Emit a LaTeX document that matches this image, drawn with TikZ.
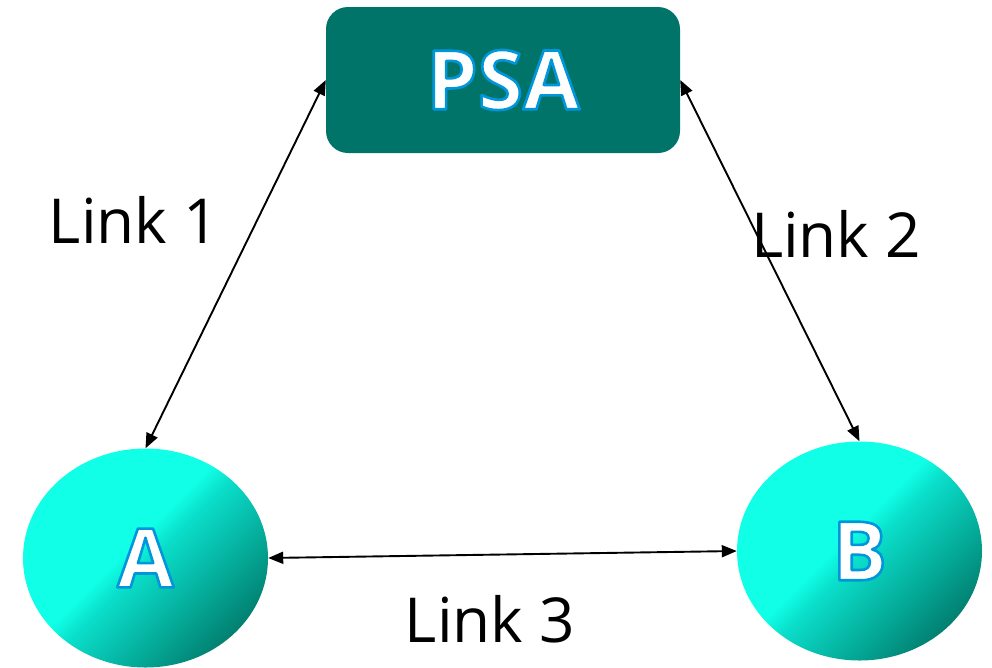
\documentclass[tikz,border=0pt]{standalone}
\usepackage{fontspec}
\setmainfont{Open Sans}
\usetikzlibrary{shapes.geometric,arrows.meta,positioning}
\definecolor{psateal}{RGB}{0,116,104}
\definecolor{nodecyan}{RGB}{16,255,230}
\definecolor{nodemid}{RGB}{10,222,202}
\definecolor{nodelow}{RGB}{4,168,150}
\definecolor{nodedark}{RGB}{0,104,90}
% bright upper left, dark lower right
\pgfdeclareverticalshading{peerglow}{100bp}{%
    color(0bp)=(nodedark); color(19bp)=(nodedark);
    color(35bp)=(nodelow); color(49bp)=(nodemid);
    color(54bp)=(nodecyan); color(100bp)=(nodecyan)}
% white letters with a blue rim
\newcommand{\glowtext}[1]{\color{white}%
    \special{pdf:literal direct q 0 0.59 0.86 RG 2 Tr 1 j 2.6 w}#1%
    \special{pdf:literal direct Q}}
\tikzset{
        server/.style={
            rectangle, fill=psateal, rounded corners=22pt,
            minimum width=354pt, minimum height=146pt,
            inner sep=0pt, font=\fontsize{82}{90}\selectfont\bfseries
        },
        peer/.style={
            ellipse, shading=peerglow, shading angle=45,
            minimum width=245pt, minimum height=219pt,
            inner sep=0pt, font=\fontsize{82}{90}\selectfont\bfseries
        },
        linklabel/.style={
            anchor=base, inner sep=0pt,
            font=\fontsize{62}{70}\selectfont
        }
    }

\begin{document}
\begin{tikzpicture}[
    x=1pt, y=-1pt,
    > = {Triangle[length=15pt,width=12pt]},
  ]
    \useasboundingbox (0,0) rectangle (992,667);

    \node[server] (PSA) at (503,80) {\glowtext{PSA}};
    \node[peer] (A) at (145.5,558) {\glowtext{A}};
    \node[peer] (B) at (859.5,551) {\glowtext{B}};

    \node[linklabel] (L1) at (134,243) {Link 1};
    \node[linklabel] (L2) at (836,257) {Link 2};
    \node[linklabel] (L3) at (490,642) {Link 3};

    \path[<->, line width=1.9pt]
    (PSA.west) edge (A.north)
    (PSA.east) edge (B.north)
    (A.east) edge (B.west);

\end{tikzpicture}
\end{document}
